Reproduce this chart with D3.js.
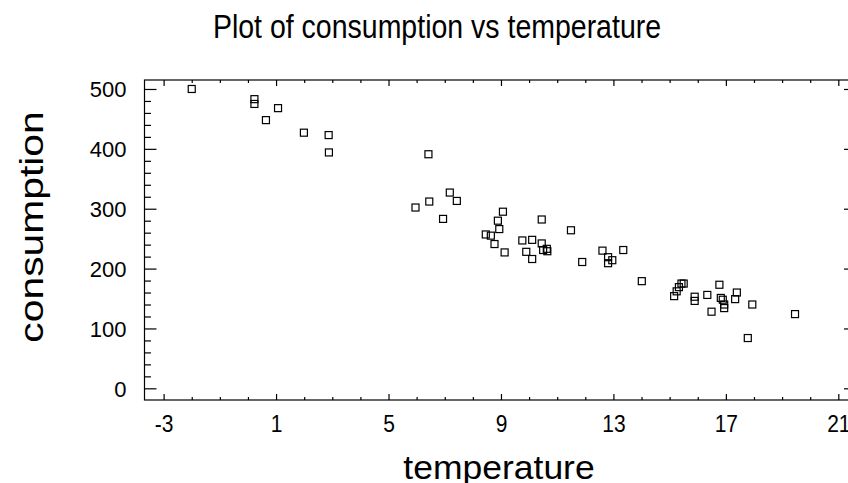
<!DOCTYPE html>
<html>
<head>
<meta charset="utf-8">
<script src="https://cdn.jsdelivr.net/npm/d3@7"></script>
<style>
  body { margin: 0; background: #fff; }
  text { font-family: "Liberation Sans", Arial, sans-serif; fill: #000; }
</style>
</head>
<body>
<div class="container"></div>
<script>
// data
var temperature = [-2.0, 0.23, 0.23, 1.07, 0.64, 1.99, 2.87, 2.88, 6.42, 5.96,
                   6.45, 7.18, 7.43, 6.94, 9.07, 8.89, 8.94, 8.46, 8.64, 8.77,
                   9.13, 10.45, 9.76, 10.11, 9.9, 10.11, 10.45, 10.5, 10.63, 10.65,
                   11.49, 11.89, 12.61, 13.35, 12.81, 12.81, 12.96, 14.01, 15.16, 15.25,
                   15.33, 15.42, 15.5, 15.89, 15.89, 16.34, 16.49, 16.77, 16.82, 16.89,
                   16.94, 16.94, 17.33, 17.39, 17.94, 17.78, 19.46];
var consumption = [500, 483, 475, 468, 448, 427, 423, 394, 391, 302,
                   312, 327, 313, 283, 295, 280, 266, 257, 255, 241,
                   227, 282, 247, 248, 228, 216, 242, 231, 233, 229,
                   264, 211, 230, 231, 219, 209, 214, 179, 154, 162,
                   169, 175, 175, 153, 146, 156, 128, 173, 151, 148,
                   140, 134, 149, 160, 140, 84, 124];

var xTicks = [-3, 1, 5, 9, 13, 17, 21];
var yTicks = [0, 100, 200, 300, 400, 500];

var W = 848, H = 483;
// plot frame (window.top is taken, so prefixed names)
var pLeft = 144.5, pRight = 849, pTop = 80, pBottom = 400;

//Makes the stage
function makeStage(w, h) {
    var stage = d3.select(".container")
    .append("svg")
    .attr("width", w)
    .attr("height", h)
    return stage;
}

var svg = makeStage(W, H);

var x = d3.scaleLinear().domain([-3.68, 21.38]).range([pLeft, pRight]);
var y = d3.scaleLinear().domain([-19.5, 515]).range([pBottom, pTop]);

// plain hyphen for negatives, like the original
var plain = function (d) { return String(d); };

// minor tick values
var xMinor = d3.range(-3, 22, 1).filter(function (v) { return xTicks.indexOf(v) < 0; });
var yMinor = d3.range(0, 501, 20).filter(function (v) { return yTicks.indexOf(v) < 0; });

// frame
svg.append("rect")
  .attr("x", pLeft)
  .attr("y", pTop)
  .attr("width", pRight - pLeft)
  .attr("height", pBottom - pTop)
  .attr("fill", "none")
  .attr("stroke", "#000")
  .attr("stroke-width", 1.2);

// bottom and top ticks
var bAxis = d3.axisBottom(x).tickValues(xTicks).tickSize(-6).tickFormat(plain);
var gB = svg.append("g").attr("transform", "translate(0," + pBottom + ")").call(bAxis);
gB.select(".domain").remove();
svg.append("g").attr("transform", "translate(0," + pBottom + ")")
  .call(d3.axisBottom(x).tickValues(xMinor).tickSize(-3).tickFormat(""))
  .select(".domain").remove();
svg.append("g").attr("transform", "translate(0," + pTop + ")")
  .call(d3.axisTop(x).tickValues(xTicks).tickSize(-6).tickFormat(""))
  .select(".domain").remove();
svg.append("g").attr("transform", "translate(0," + pTop + ")")
  .call(d3.axisTop(x).tickValues(xMinor).tickSize(-3).tickFormat(""))
  .select(".domain").remove();

gB.selectAll(".tick text")
  .attr("font-size", 21)
  .attr("font-family", "Liberation Sans, Arial, sans-serif")
  .attr("dy", null)
  .attr("y", 0)
  .attr("transform", "translate(0,32) scale(1,1.18)");

// left and right ticks
var lAxis = d3.axisLeft(y).tickValues(yTicks).tickSize(-12).tickPadding(18).tickFormat(plain);
var gL = svg.append("g").attr("transform", "translate(" + pLeft + ",0)").call(lAxis);
gL.select(".domain").remove();
svg.append("g").attr("transform", "translate(" + pLeft + ",0)")
  .call(d3.axisLeft(y).tickValues(yMinor).tickSize(-6.5).tickFormat(""))
  .select(".domain").remove();
svg.append("g").attr("transform", "translate(" + pRight + ",0)")
  .call(d3.axisRight(y).tickValues(yTicks).tickSize(-5).tickFormat(""))
  .select(".domain").remove();

gL.selectAll(".tick text")
  .attr("font-size", 22)
  .attr("font-family", "Liberation Sans, Arial, sans-serif")
  .attr("dy", "0.36em");

svg.selectAll(".tick line").attr("stroke", "#000").attr("stroke-width", 1.2);

// points
svg.append("g")
  .selectAll("rect")
  .data(temperature)
  .enter()
  .append("rect")
  .attr("x", function (d) { return x(d) - 3.5; })
  .attr("y", function (d, i) { return y(consumption[i]) - 3.5; })
  .attr("width", 7)
  .attr("height", 7)
  .attr("fill", "none")
  .attr("stroke", "#000")
  .attr("stroke-width", 1.2);

// title and axis labels
svg.append("text")
  .attr("text-anchor", "middle")
  .attr("font-size", 28.5)
  .attr("transform", "translate(437,38) scale(1,1.14)")
  .text("Plot of consumption vs temperature");

svg.append("text")
  .attr("text-anchor", "middle")
  .attr("font-size", 35.5)
  .attr("transform", "translate(499,479) scale(1,0.95)")
  .text("temperature");

svg.append("text")
  .attr("text-anchor", "middle")
  .attr("font-size", 34)
  .attr("transform", "translate(43,227) rotate(-90) scale(1.2,1)")
  .text("consumption");
</script>
</body>
</html>
